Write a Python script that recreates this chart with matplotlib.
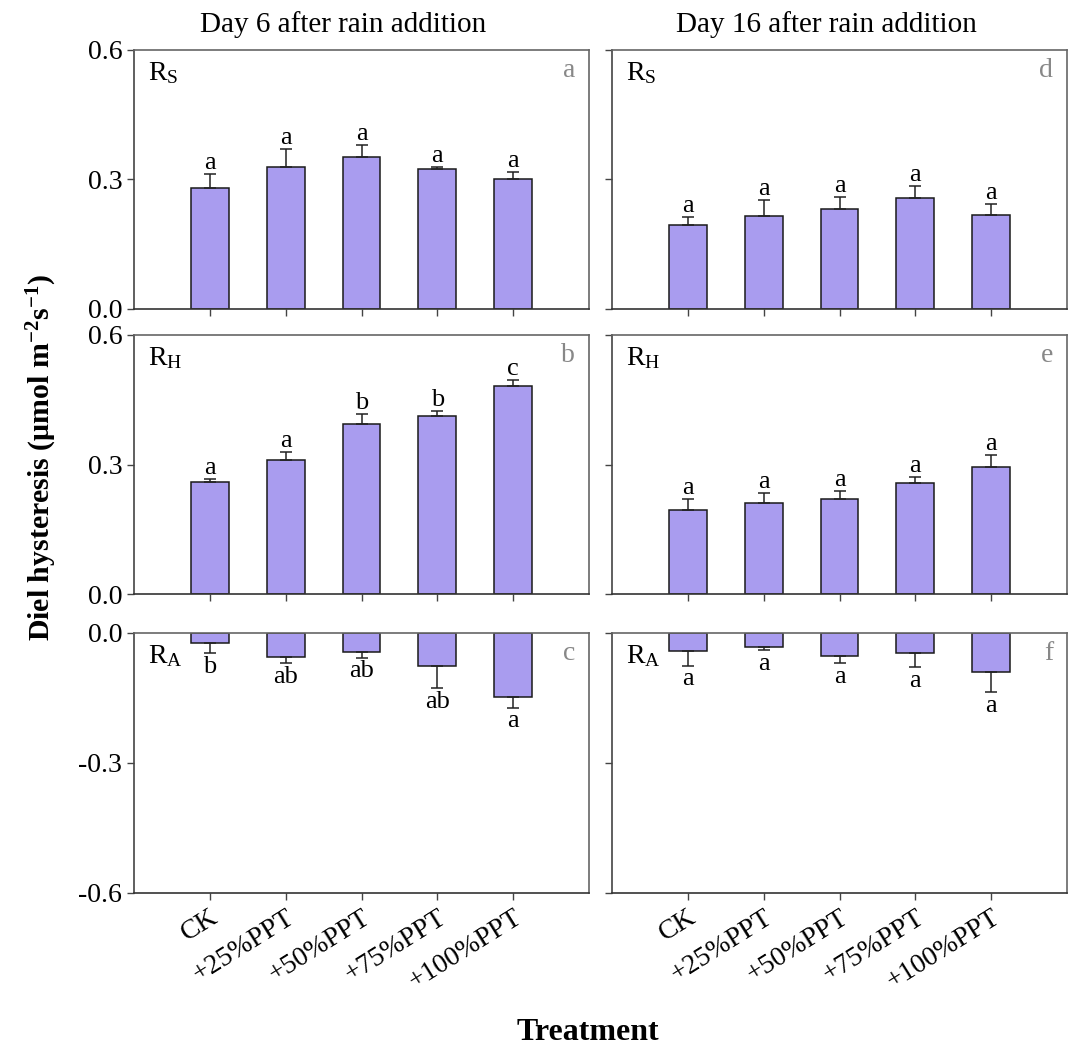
import matplotlib
matplotlib.use('Agg')
import matplotlib.pyplot as plt

plt.rcParams['font.family'] = ['Liberation Serif', 'DejaVu Serif']
plt.rcParams['mathtext.fontset'] = 'custom'
plt.rcParams['mathtext.rm'] = 'Liberation Serif'
plt.rcParams['mathtext.it'] = 'Liberation Serif:italic'
plt.rcParams['mathtext.bf'] = 'Liberation Serif:bold'

treatments = ['CK', '+25%PPT', '+50%PPT', '+75%PPT', '+100%PPT']
col_titles = ['Day 6 after rain addition', 'Day 16 after rain addition']

# Rs
rs_day6 = [0.280, 0.330, 0.351, 0.324, 0.302]
rs_day6_err = [0.033, 0.041, 0.029, 0.006, 0.015]
rs_day6_sig = ['a', 'a', 'a', 'a', 'a']
rs_day16 = [0.194, 0.215, 0.232, 0.256, 0.218]
rs_day16_err = [0.018, 0.037, 0.027, 0.029, 0.026]
rs_day16_sig = ['a', 'a', 'a', 'a', 'a']

# Rh
rh_day6 = [0.259, 0.311, 0.394, 0.413, 0.481]
rh_day6_err = [0.008, 0.018, 0.022, 0.011, 0.015]
rh_day6_sig = ['a', 'a', 'b', 'b', 'c']
rh_day16 = [0.194, 0.211, 0.221, 0.258, 0.294]
rh_day16_err = [0.027, 0.022, 0.018, 0.013, 0.027]
rh_day16_sig = ['a', 'a', 'a', 'a', 'a']

# Ra
ra_day6 = [-0.022, -0.055, -0.043, -0.077, -0.147]
ra_day6_err = [0.025, 0.014, 0.014, 0.051, 0.025]
ra_day6_sig = ['b', 'ab', 'ab', 'ab', 'a']
ra_day16 = [-0.042, -0.033, -0.054, -0.045, -0.090]
ra_day16_err = [0.033, 0.006, 0.016, 0.033, 0.046]
ra_day16_sig = ['a', 'a', 'a', 'a', 'a']

rows = [
    ('R$_\\mathrm{S}$', [(rs_day6, rs_day6_err, rs_day6_sig), (rs_day16, rs_day16_err, rs_day16_sig)], (0, 0.6)),
    ('R$_\\mathrm{H}$', [(rh_day6, rh_day6_err, rh_day6_sig), (rh_day16, rh_day16_err, rh_day16_sig)], (0, 0.6)),
    ('R$_\\mathrm{A}$', [(ra_day6, ra_day6_err, ra_day6_sig), (ra_day16, ra_day16_err, ra_day16_sig)], (-0.6, 0)),
]
panel_letters = [['a', 'd'], ['b', 'e'], ['c', 'f']]

W, H = 1072, 1048
fig = plt.figure(figsize=(W / 100, H / 100), dpi=100)

col_x = [134, 612]
row_y = [(50, 309), (335, 594), (633, 893)]
ax_w = 455

bar_color = '#A99CEF'
x = list(range(len(treatments)))

for r, (name, cols, ylim) in enumerate(rows):
    for c, (vals, errs, sig) in enumerate(cols):
        top, bot = row_y[r]
        ax = fig.add_axes([col_x[c] / W, 1 - bot / H, ax_w / W, (bot - top) / H])
        ax.bar(x, vals, width=0.5, color=bar_color, edgecolor='#1a1a1a', linewidth=1.1, zorder=2)
        neg = ylim[1] == 0
        if neg:
            yerr = [errs, [0] * len(errs)]
        else:
            yerr = [[0] * len(errs), errs]
        ax.errorbar(x, vals, yerr=yerr, fmt='none', ecolor='#222222', elinewidth=1.1,
                    capsize=4, capthick=1.1, zorder=3)
        for i in x:
            if neg:
                ax.annotate(sig[i], (i, vals[i] - errs[i]), xytext=(0, -2), textcoords='offset points',
                            ha='center', va='top', fontsize=19)
            else:
                ax.annotate(sig[i], (i, vals[i] + errs[i]), xytext=(0, 0), textcoords='offset points',
                            ha='center', va='bottom', fontsize=19)
        ax.set_xlim(-1, 5)
        ax.set_ylim(*ylim)
        ax.set_yticks([ylim[0], (ylim[0] + ylim[1]) / 2, ylim[1]])
        ax.set_xticks(x)
        ax.tick_params(direction='out', length=5, width=1, colors='#444444', labelcolor='black', labelsize=20)
        if c == 0:
            ax.set_yticklabels(['%.1f' % v for v in ax.get_yticks()])
        else:
            ax.set_yticklabels([])
        if r == 2:
            ax.set_xticklabels(treatments, rotation=32, ha='right', va='top', rotation_mode='anchor', fontsize=20)
        else:
            ax.set_xticklabels([])
        for s in ax.spines.values():
            s.set_color('#666666')
            s.set_linewidth(1.2)
        ax.spines['bottom'].set_color('#333333')
        ax.spines['left'].set_color('#444444')
        ax.text(0.03, 0.91, name, transform=ax.transAxes, fontsize=20, ha='left', va='center')
        ax.text(0.97, 0.92, panel_letters[r][c], transform=ax.transAxes, fontsize=20,
                ha='right', va='center', color='#888888')

fig.text(343 / W, 1 - 25 / H, col_titles[0], ha='center', va='center', fontsize=21)
fig.text(826 / W, 1 - 25 / H, col_titles[1], ha='center', va='center', fontsize=21)
fig.text(42 / W, 1 - 457 / H, 'Diel hysteresis (μmol m$^{\\mathbf{-2}}$s$^{\\mathbf{-1}}$)',
         rotation=90, ha='center', va='center', fontsize=21.5, fontweight='bold')
fig.text(588 / W, 1 - 1032 / H, 'Treatment', ha='center', va='center', fontsize=23, fontweight='bold')

fig.savefig('out.png', dpi=100)
